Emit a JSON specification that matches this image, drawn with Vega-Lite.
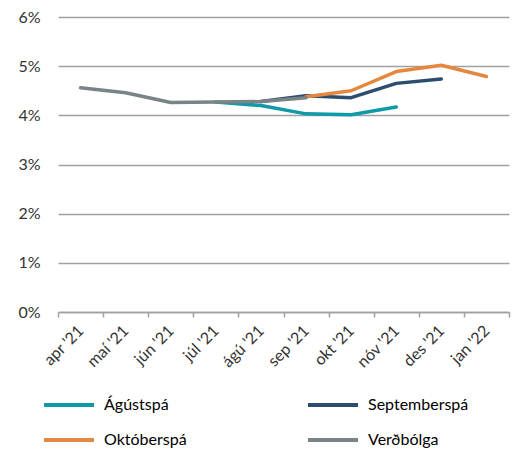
{
  "$schema": "https://vega.github.io/schema/vega-lite/v6.json",
  "width": 451,
  "height": 295,
  "autosize": {"type": "none"},
  "padding": {"left": 58, "top": 17, "right": 8, "bottom": 138},
  "background": "white",
  "config": {
    "font": "Lato",
    "view": {"stroke": null}
  },
  "data": {
    "values": [
      {"manudur": "júl '21", "sería": "Ágústspá", "verdbolga": 0.0427},
      {"manudur": "ágú '21", "sería": "Ágústspá", "verdbolga": 0.0420},
      {"manudur": "sep '21", "sería": "Ágústspá", "verdbolga": 0.0403},
      {"manudur": "okt '21", "sería": "Ágústspá", "verdbolga": 0.0401},
      {"manudur": "nóv '21", "sería": "Ágústspá", "verdbolga": 0.0417},
      {"manudur": "ágú '21", "sería": "Septemberspá", "verdbolga": 0.0428},
      {"manudur": "sep '21", "sería": "Septemberspá", "verdbolga": 0.0440},
      {"manudur": "okt '21", "sería": "Septemberspá", "verdbolga": 0.0436},
      {"manudur": "nóv '21", "sería": "Septemberspá", "verdbolga": 0.0465},
      {"manudur": "des '21", "sería": "Septemberspá", "verdbolga": 0.0474},
      {"manudur": "sep '21", "sería": "Októberspá", "verdbolga": 0.0438},
      {"manudur": "okt '21", "sería": "Októberspá", "verdbolga": 0.0450},
      {"manudur": "nóv '21", "sería": "Októberspá", "verdbolga": 0.0489},
      {"manudur": "des '21", "sería": "Októberspá", "verdbolga": 0.0502},
      {"manudur": "jan '22", "sería": "Októberspá", "verdbolga": 0.0479},
      {"manudur": "apr '21", "sería": "Verðbólga", "verdbolga": 0.0456},
      {"manudur": "maí '21", "sería": "Verðbólga", "verdbolga": 0.0446},
      {"manudur": "jún '21", "sería": "Verðbólga", "verdbolga": 0.0426},
      {"manudur": "júl '21", "sería": "Verðbólga", "verdbolga": 0.0427},
      {"manudur": "ágú '21", "sería": "Verðbólga", "verdbolga": 0.0428},
      {"manudur": "sep '21", "sería": "Verðbólga", "verdbolga": 0.0436}
    ]
  },
  "mark": {"type": "line", "strokeWidth": 3.5, "strokeCap": "round", "strokeJoin": "round"},
  "encoding": {
    "x": {
      "field": "manudur",
      "type": "ordinal",
      "bandPosition": 0.5,
      "sort": ["apr '21", "maí '21", "jún '21", "júl '21", "ágú '21", "sep '21", "okt '21", "nóv '21", "des '21", "jan '22"],
      "scale": {"type": "band", "paddingInner": 0, "paddingOuter": 0, "domain": ["apr '21", "maí '21", "jún '21", "júl '21", "ágú '21", "sep '21", "okt '21", "nóv '21", "des '21", "jan '22"]},
      "axis": {
        "title": null,
        "tickBand": "extent",
        "labelAngle": -45,
        "labelAlign": "right",
        "labelBaseline": "middle",
        "labelFontSize": 16,
        "labelColor": "#333333",
        "labelPadding": 11,
        "domainColor": "#a0a0a0",
        "domainWidth": 1.5,
        "tickColor": "#a0a0a0",
        "tickWidth": 1.5,
        "tickSize": 5,
        "grid": false
      }
    },
    "y": {
      "field": "verdbolga",
      "type": "quantitative",
      "scale": {"domain": [0, 0.06]},
      "axis": {
        "title": null,
        "format": ".0%",
        "values": [0, 0.01, 0.02, 0.03, 0.04, 0.05, 0.06],
        "domain": false,
        "ticks": false,
        "labelPadding": 18,
        "labelFontSize": 16,
        "labelColor": "#333333",
        "gridColor": "#a0a0a0",
        "gridWidth": 1.5
      }
    },
    "color": {
      "field": "sería",
      "type": "nominal",
      "scale": {
        "domain": ["Ágústspá", "Septemberspá", "Októberspá", "Verðbólga"],
        "range": ["#0E9AA8", "#2C4D6F", "#E6873F", "#7A8385"]
      },
      "legend": {
        "title": null,
        "orient": "none",
        "legendX": -16,
        "legendY": 361,
        "columns": 2,
        "direction": "horizontal",
        "columnPadding": 113,
        "rowPadding": -17,
        "symbolType": "stroke",
        "symbolSize": 2500,
        "symbolStrokeWidth": 4,
        "labelFontSize": 16,
        "labelColor": "#000000",
        "labelOffset": 8
      }
    }
  }
}
